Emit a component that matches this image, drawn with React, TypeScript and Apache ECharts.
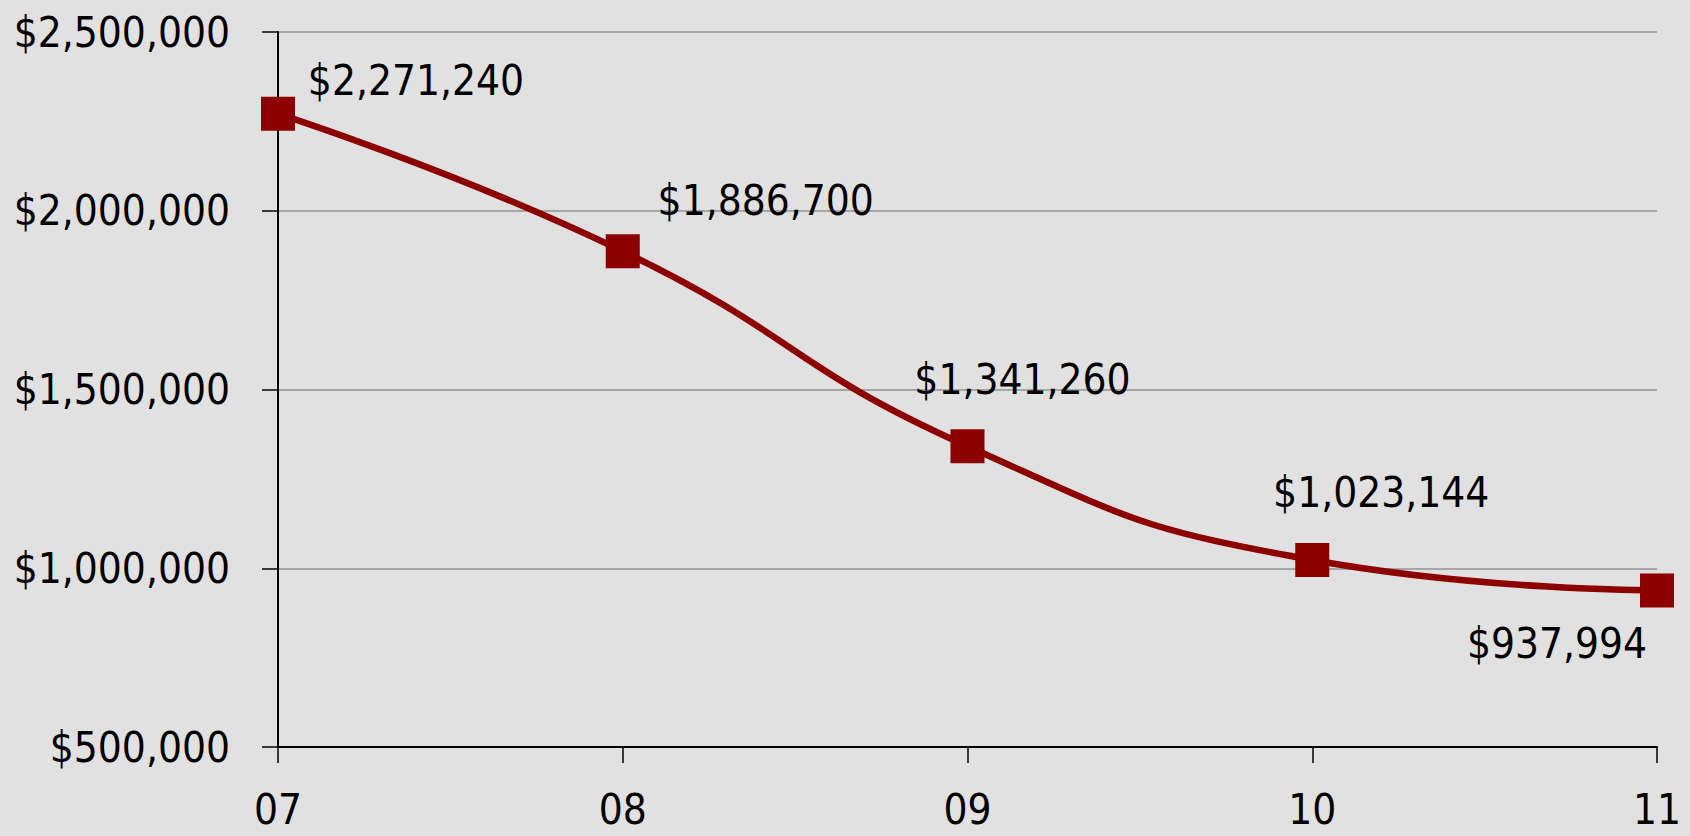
import React, { useEffect, useRef } from "react";
import * as echarts from "echarts";

const categories = ["07", "08", "09", "10", "11"];
const values = [2271240, 1886700, 1341260, 1023144, 937994];
const yTicks = { min: 500000, max: 2500000, interval: 500000 };
// label offsets relative to marker centre (layout only)
const labelOffsets: [number, number][] = [
  [138, -33],
  [143, -51],
  [55, -67],
  [69, -67],
  [-100, 53],
];

const FONT = "'DejaVu Sans Condensed', 'Roboto', sans-serif";
const FS = 42;
const fmt = (v: number) => "$" + v.toLocaleString("en-US");

export default function App() {
  const ref = useRef<HTMLDivElement>(null);
  useEffect(() => {
    if (!ref.current) return;
    const chart = echarts.init(ref.current, undefined, { renderer: "svg" });
    chart.setOption({
      animation: false,
      backgroundColor: "#e1e1e1",
      grid: {
        left: 278,
        right: 33,
        top: 32,
        bottom: 89,
        containLabel: false,
        outerBoundsMode: "none",
      },
      xAxis: {
        type: "category",
        data: categories,
        boundaryGap: false,
        axisLine: { show: true, lineStyle: { color: "#000", width: 2 } },
        axisTick: { show: true, length: 16, lineStyle: { color: "#000", width: 1.5 } },
        axisLabel: { color: "#000", fontFamily: FONT, fontSize: FS, margin: 41 },
        splitLine: { show: false },
      },
      yAxis: {
        type: "value",
        min: yTicks.min,
        max: yTicks.max,
        interval: yTicks.interval,
        axisLine: { show: true, lineStyle: { color: "#000", width: 2 } },
        axisTick: { show: true, length: 16, lineStyle: { color: "#000", width: 1.5 } },
        axisLabel: {
          color: "#000",
          fontFamily: FONT,
          fontSize: FS,
          margin: 48,
          formatter: (v: number) => fmt(v),
        },
        splitLine: { show: true, lineStyle: { color: "#a6a6a6", width: 2 } },
      },
      series: [
        {
          type: "line",
          data: values.map((v, i) => ({
            value: v,
            label: { offset: labelOffsets[i] },
          })),
          smooth: 0.5,
          symbol: "rect",
          symbolSize: 34,
          itemStyle: { color: "#8c0000" },
          lineStyle: { color: "#8c0000", width: 6.5 },
          label: {
            show: true,
            position: "inside",
            color: "#000",
            fontFamily: FONT,
            fontSize: FS,
            formatter: (p: any) => fmt(p.value),
          },
        },
      ],
    });
    return () => chart.dispose();
  }, []);
  return (
    <div
      ref={ref}
      style={{ position: "fixed", left: 0, top: 0, width: 1690, height: 836 }}
    />
  );
}
